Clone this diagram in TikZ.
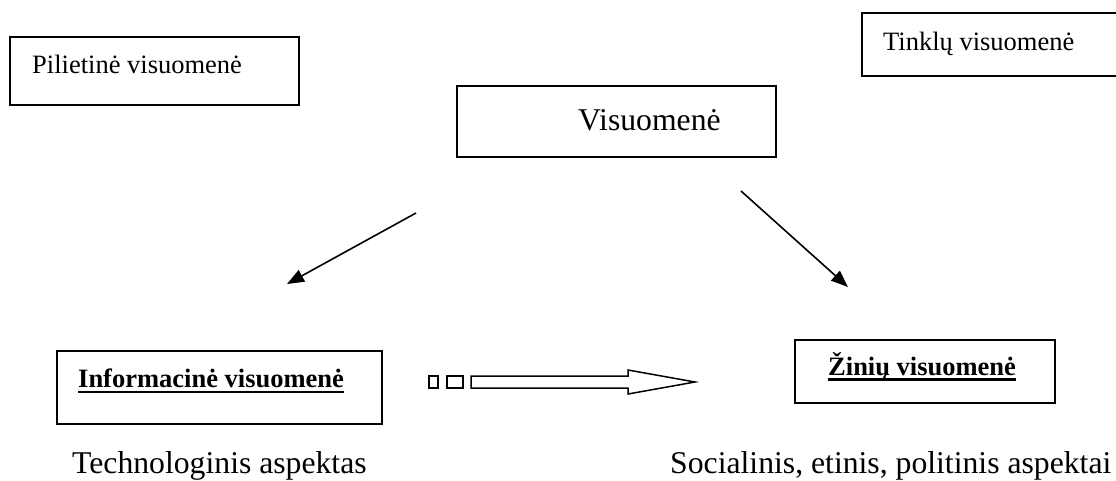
\documentclass[tikz,border=0pt]{standalone}
\usepackage{fontspec}
\setmainfont{Liberation Serif}
\usepackage{tikz}
\usetikzlibrary{positioning,arrows.meta}

\begin{document}
\begin{tikzpicture}[
x=1pt, y=-1pt,
box/.style={rectangle, draw=black, line width=1.8pt, inner sep=0pt, outer sep=0pt},
txt/.style={inner sep=0pt, anchor=base west, font=\fontsize{26.5}{30}\selectfont},
boldtxt/.style={txt, font=\fontsize{26.5}{30}\selectfont\bfseries},
bigtxt/.style={inner sep=0pt, anchor=base west, font=\fontsize{31.7}{36}\selectfont},
sq/.style={rectangle, draw=black, line width=1.5pt, inner sep=0pt},
uline/.style={line width=2.2pt},
arr/.style={line width=1.6pt, -{Triangle[length=17pt,width=13pt]}},
]
\useasboundingbox (0,0) rectangle (1116,480);

% boxes
\node[box, minimum width=289pt, minimum height=68pt] (pilbox) at (154.5,71) {};
\node[box, minimum width=263pt, minimum height=63pt] (tinkbox) at (993.5,44.5) {};
\node[box, minimum width=319pt, minimum height=71pt] (visbox) at (616.5,121.5) {};
\node[box, minimum width=325pt, minimum height=73pt] (infobox) at (219.5,387.5) {};
\node[box, minimum width=260pt, minimum height=63pt] (zinbox) at (925,371.5) {};

% texts
\node[txt] (piltext) at (32,73) {Pilietinė visuomenė};
\node[txt] (tinktext) at (883,50) {Tinklų visuomenė};
\node[bigtxt] (vistext) at (578,130) {Visuomenė};
\node[boldtxt] (infotext) at (78,387) {Informacinė visuomenė};
\node[boldtxt] (zintext) at (828,375) {Žinių visuomenė};
\node[bigtxt] (techtext) at (72,473) {Technologinis aspektas};
\node[bigtxt] (soctext) at (670,473) {Socialinis, etinis, politinis aspektai};

\draw[uline] ([yshift=-5pt]infotext.base west) -- ([yshift=-5pt]infotext.base east);
\draw[uline] ([yshift=-4.5pt]zintext.base west) -- ([yshift=-4.5pt]zintext.base east);

% arrows
\coordinate (visl) at (416,213);
\coordinate (infol) at (287,284);
\coordinate (visr) at (741,191);
\coordinate (zinr) at (848,287);
\draw[arr] (visl) -- (infol);
\draw[arr] (visr) -- (zinr);

% block arrow
\node[sq, minimum width=9pt, minimum height=12pt] (sq1) at (433.5,382) {};
\node[sq, minimum width=16pt, minimum height=12pt] (sq2) at (455,382) {};
\draw[line width=1.5pt, line join=miter] (471,376) -- (628,376) -- (628,370) -- (695,382)
  -- (628,394) -- (628,388) -- (471,388) -- cycle;

\end{tikzpicture}
\end{document}
